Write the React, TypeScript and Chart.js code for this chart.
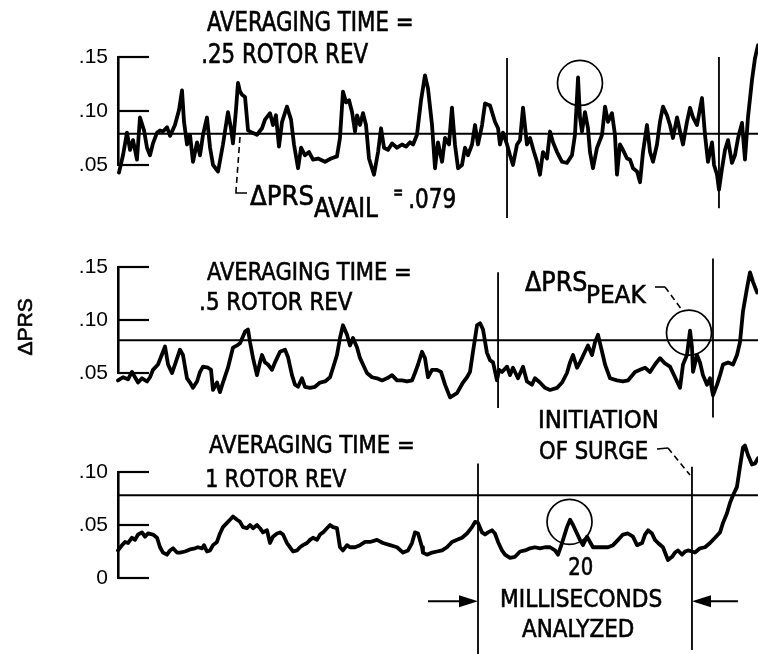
import React, { useEffect, useRef } from 'react';
import { Chart, registerables } from 'chart.js';

Chart.register(...registerables);

// ---------------- DATA (time in milliseconds, ΔPRS values) ----------------
const TIME_RANGE_MS = [0, 60];

// ΔPRS available level as drawn on each trace
const AVAIL_LEVEL_025 = 0.079;
const AVAIL_LEVEL_05 = 0.081;
const AVAIL_LEVEL_1 = 0.078;

const TICKS_025 = [0.05, 0.1, 0.15];
const TICK_LABELS_025 = ['.05', '.10', '.15'];
const TICKS_05 = [0.05, 0.1, 0.15];
const TICK_LABELS_05 = ['.05', '.10', '.15'];
const TICKS_1 = [0, 0.05, 0.1];
const TICK_LABELS_1 = ['0', '.05', '.10'];

// averaging time = .25 rotor rev
const PRS_025_REV: [number, number][] = [
  [0.09, 0.043], [0.47, 0.059], [0.84, 0.08], [1.13, 0.064], [1.41, 0.073], [1.78, 0.055], [2.06, 0.094],
  [2.44, 0.082], [2.72, 0.066], [3.0, 0.059], [3.28, 0.07], [3.66, 0.08], [3.94, 0.082], [4.22, 0.081],
  [4.59, 0.085], [4.88, 0.077], [5.34, 0.087], [5.72, 0.101], [6.0, 0.119], [6.19, 0.09], [6.47, 0.069],
  [6.75, 0.078], [7.03, 0.053], [7.41, 0.071], [7.69, 0.059], [7.97, 0.078], [8.34, 0.094], [8.63, 0.066],
  [8.91, 0.05], [9.38, 0.044], [9.84, 0.069], [10.31, 0.099], [10.59, 0.084], [10.78, 0.07], [11.06, 0.101],
  [11.25, 0.126], [11.44, 0.118], [11.63, 0.115], [11.91, 0.113], [12.19, 0.082], [12.56, 0.08], [13.03, 0.078],
  [13.5, 0.084], [13.78, 0.092], [14.25, 0.098], [14.53, 0.087], [14.81, 0.096], [15.09, 0.067], [15.38, 0.09],
  [15.84, 0.104], [16.22, 0.092], [16.5, 0.069], [16.88, 0.047], [17.16, 0.066], [17.53, 0.059], [17.91, 0.062],
  [18.28, 0.055], [18.75, 0.056], [19.41, 0.053], [19.97, 0.056], [20.53, 0.058], [20.81, 0.075], [21.09, 0.118],
  [21.38, 0.108], [21.66, 0.11], [21.94, 0.099], [22.22, 0.081], [22.41, 0.096], [22.69, 0.087], [22.97, 0.098],
  [23.25, 0.087], [23.53, 0.056], [24.0, 0.041], [24.38, 0.062], [24.66, 0.084], [24.94, 0.066], [25.31, 0.064],
  [25.69, 0.07], [26.16, 0.066], [26.63, 0.069], [27.0, 0.067], [27.38, 0.071], [27.66, 0.069], [28.03, 0.078],
  [28.41, 0.11], [28.78, 0.133], [29.06, 0.121], [29.44, 0.087], [29.72, 0.047], [30.0, 0.071], [30.38, 0.053],
  [30.66, 0.075], [31.03, 0.069], [31.31, 0.103], [31.59, 0.069], [31.88, 0.047], [32.25, 0.05], [32.53, 0.066],
  [32.81, 0.059], [33.19, 0.069], [33.47, 0.087], [33.75, 0.069], [34.13, 0.087], [34.41, 0.107], [34.88, 0.105],
  [35.34, 0.09], [35.63, 0.084], [35.81, 0.069], [36.09, 0.08], [36.47, 0.069], [36.75, 0.059], [37.03, 0.05],
  [37.41, 0.069], [37.69, 0.073], [37.97, 0.103], [38.34, 0.069], [38.63, 0.075], [39.0, 0.062], [39.28, 0.053],
  [39.56, 0.041], [39.84, 0.062], [40.22, 0.056], [40.5, 0.081], [40.78, 0.071], [41.16, 0.062], [41.63, 0.053],
  [42.09, 0.052], [42.56, 0.059], [42.84, 0.078], [43.13, 0.131], [43.31, 0.094], [43.5, 0.081], [43.78, 0.099],
  [44.06, 0.084], [44.25, 0.062], [44.53, 0.047], [44.91, 0.066], [45.38, 0.078], [45.66, 0.104], [45.94, 0.09],
  [46.31, 0.098], [46.59, 0.078], [46.78, 0.041], [47.06, 0.069], [47.34, 0.064], [47.72, 0.056], [48.0, 0.055],
  [48.28, 0.047], [48.66, 0.044], [48.94, 0.034], [49.22, 0.062], [49.59, 0.087], [49.88, 0.062], [50.16, 0.053],
  [50.53, 0.069], [50.81, 0.09], [51.09, 0.104], [51.47, 0.096], [51.75, 0.087], [52.03, 0.075], [52.41, 0.094],
  [52.69, 0.081], [52.97, 0.069], [53.34, 0.09], [53.63, 0.103], [53.91, 0.094], [54.28, 0.087], [54.75, 0.112],
  [55.03, 0.078], [55.31, 0.053], [55.69, 0.071], [55.88, 0.05], [56.16, 0.041], [56.34, 0.027], [56.63, 0.047],
  [56.91, 0.064], [57.19, 0.073], [57.56, 0.052], [57.84, 0.059], [58.13, 0.075], [58.5, 0.089], [58.78, 0.055],
  [59.06, 0.094], [59.44, 0.129], [59.72, 0.149], [60.0, 0.161],
];

// averaging time = .5 rotor rev
const PRS_05_REV: [number, number][] = [
  [0.0, 0.043], [0.47, 0.046], [0.94, 0.044], [1.31, 0.051], [1.59, 0.046], [1.88, 0.041], [2.25, 0.045],
  [2.72, 0.042], [3.0, 0.046], [3.28, 0.053], [3.75, 0.058], [4.22, 0.07], [4.41, 0.075], [4.69, 0.058],
  [5.06, 0.05], [5.34, 0.058], [5.81, 0.072], [6.09, 0.067], [6.47, 0.045], [6.75, 0.041], [7.03, 0.036],
  [7.41, 0.042], [7.69, 0.051], [7.97, 0.056], [8.44, 0.055], [8.72, 0.053], [8.91, 0.034], [9.28, 0.041],
  [9.56, 0.032], [9.84, 0.041], [10.31, 0.055], [10.78, 0.074], [11.16, 0.076], [11.44, 0.078], [11.91, 0.089],
  [12.19, 0.091], [12.38, 0.079], [12.66, 0.064], [13.03, 0.048], [13.31, 0.06], [13.5, 0.067], [13.78, 0.06],
  [14.06, 0.058], [14.44, 0.053], [14.72, 0.06], [15.19, 0.07], [15.66, 0.072], [15.94, 0.065], [16.31, 0.048],
  [16.59, 0.039], [16.88, 0.037], [17.25, 0.045], [17.53, 0.037], [18.0, 0.036], [18.47, 0.037], [18.94, 0.041],
  [19.41, 0.042], [19.88, 0.046], [20.16, 0.055], [20.53, 0.067], [20.81, 0.083], [21.09, 0.095], [21.47, 0.086],
  [21.75, 0.076], [22.03, 0.083], [22.41, 0.074], [22.69, 0.064], [22.97, 0.058], [23.34, 0.05], [23.81, 0.046],
  [24.28, 0.045], [24.75, 0.043], [25.22, 0.045], [25.69, 0.048], [26.16, 0.043], [26.63, 0.043], [27.09, 0.042],
  [27.56, 0.043], [27.84, 0.05], [28.13, 0.058], [28.5, 0.07], [28.78, 0.064], [29.06, 0.046], [29.44, 0.053],
  [29.91, 0.053], [30.28, 0.051], [30.66, 0.039], [31.13, 0.027], [31.78, 0.031], [32.34, 0.041], [32.72, 0.046],
  [33.0, 0.051], [33.28, 0.07], [33.66, 0.095], [33.94, 0.097], [34.22, 0.091], [34.59, 0.069], [34.88, 0.062],
  [35.16, 0.06], [35.53, 0.043], [35.72, 0.053], [36.0, 0.051], [36.47, 0.056], [36.75, 0.048], [37.03, 0.055],
  [37.5, 0.045], [37.97, 0.056], [38.34, 0.042], [38.81, 0.039], [39.09, 0.045], [39.56, 0.041], [40.03, 0.036],
  [40.5, 0.034], [41.16, 0.036], [41.63, 0.041], [42.09, 0.05], [42.38, 0.06], [42.66, 0.067], [43.03, 0.055],
  [43.31, 0.06], [43.78, 0.07], [44.06, 0.076], [44.44, 0.067], [44.72, 0.079], [45.0, 0.086], [45.38, 0.07],
  [45.66, 0.058], [46.13, 0.045], [46.78, 0.043], [47.34, 0.042], [47.81, 0.043], [48.47, 0.051], [48.94, 0.053],
  [49.41, 0.055], [49.88, 0.051], [50.34, 0.058], [50.81, 0.064], [51.28, 0.059], [51.75, 0.056], [52.22, 0.046],
  [52.69, 0.036], [52.97, 0.058], [53.34, 0.067], [53.63, 0.09], [53.81, 0.074], [53.91, 0.051], [54.28, 0.067],
  [54.56, 0.06], [54.84, 0.048], [55.22, 0.039], [55.5, 0.045], [55.78, 0.029], [56.16, 0.039], [56.44, 0.048],
  [56.72, 0.058], [57.19, 0.06], [57.66, 0.058], [58.03, 0.067], [58.31, 0.079], [58.59, 0.108], [58.97, 0.13],
  [59.25, 0.145], [59.53, 0.136], [59.91, 0.126], [60.0, 0.127],
];

// averaging time = 1 rotor rev
const PRS_1_REV: [number, number][] = [
  [0.0, 0.026], [0.38, 0.031], [0.66, 0.034], [0.94, 0.033], [1.31, 0.038], [1.59, 0.036], [1.88, 0.041],
  [2.25, 0.043], [2.53, 0.039], [2.81, 0.042], [3.28, 0.041], [3.66, 0.038], [3.94, 0.029], [4.22, 0.024],
  [4.59, 0.022], [4.88, 0.026], [5.16, 0.028], [5.53, 0.024], [5.81, 0.024], [6.28, 0.025], [6.75, 0.027],
  [7.22, 0.028], [7.5, 0.029], [7.88, 0.028], [8.06, 0.031], [8.34, 0.025], [8.63, 0.026], [8.91, 0.031],
  [9.28, 0.034], [9.56, 0.042], [9.84, 0.048], [10.22, 0.052], [10.5, 0.055], [10.78, 0.058], [11.16, 0.055],
  [11.44, 0.053], [11.72, 0.048], [12.09, 0.047], [12.38, 0.05], [12.66, 0.047], [13.03, 0.05], [13.31, 0.047],
  [13.59, 0.043], [13.97, 0.045], [14.25, 0.033], [14.53, 0.039], [14.91, 0.042], [15.19, 0.043], [15.47, 0.041],
  [15.84, 0.033], [16.13, 0.029], [16.41, 0.025], [16.78, 0.026], [17.06, 0.029], [17.34, 0.031], [17.72, 0.033],
  [18.0, 0.036], [18.28, 0.038], [18.66, 0.036], [18.94, 0.041], [19.22, 0.043], [19.59, 0.047], [19.88, 0.05],
  [20.16, 0.048], [20.53, 0.047], [20.81, 0.029], [21.09, 0.026], [21.47, 0.031], [21.75, 0.029], [22.22, 0.029],
  [22.69, 0.031], [23.16, 0.034], [23.63, 0.034], [24.28, 0.036], [24.84, 0.033], [25.5, 0.031], [26.16, 0.029],
  [26.72, 0.024], [27.19, 0.026], [27.56, 0.033], [27.84, 0.043], [28.13, 0.042], [28.5, 0.029], [28.59, 0.024],
  [28.97, 0.022], [29.44, 0.024], [29.91, 0.025], [30.38, 0.026], [30.84, 0.029], [31.31, 0.034], [31.78, 0.036],
  [32.25, 0.038], [32.72, 0.042], [33.19, 0.048], [33.47, 0.053], [33.75, 0.052], [34.13, 0.043], [34.41, 0.041],
  [34.69, 0.043], [35.06, 0.045], [35.34, 0.042], [35.63, 0.034], [36.0, 0.026], [36.28, 0.022], [36.75, 0.019],
  [37.22, 0.02], [37.69, 0.025], [38.16, 0.026], [38.63, 0.028], [39.09, 0.029], [39.56, 0.028], [40.03, 0.029],
  [40.5, 0.029], [40.97, 0.026], [41.25, 0.022], [41.63, 0.033], [42.09, 0.048], [42.38, 0.055], [42.66, 0.05],
  [43.03, 0.042], [43.31, 0.036], [43.59, 0.031], [43.97, 0.039], [44.25, 0.034], [44.53, 0.029], [45.0, 0.029],
  [45.47, 0.029], [45.94, 0.029], [46.41, 0.031], [46.88, 0.036], [47.34, 0.041], [47.81, 0.042], [48.28, 0.039],
  [48.66, 0.031], [49.13, 0.033], [49.41, 0.041], [49.69, 0.045], [50.06, 0.042], [50.34, 0.036], [50.63, 0.033],
  [51.09, 0.029], [51.56, 0.017], [51.94, 0.02], [52.22, 0.024], [52.5, 0.026], [52.88, 0.022], [53.16, 0.025],
  [53.44, 0.026], [53.81, 0.025], [54.09, 0.024], [54.56, 0.028], [55.03, 0.029], [55.5, 0.033], [55.97, 0.038],
  [56.44, 0.043], [56.72, 0.052], [57.09, 0.061], [57.38, 0.071], [57.66, 0.078], [58.03, 0.086], [58.31, 0.105],
  [58.59, 0.123], [58.78, 0.125], [59.06, 0.116], [59.44, 0.107], [59.72, 0.108], [60.0, 0.113],
];

// analysis window markers: [time ms, top value, bottom value]
const WINDOW_025: [number, number, number][] = [[36.47, 0.149, 0.001], [56.34, 0.15, 0.01]];
const WINDOW_05: [number, number, number][] = [[35.63, 0.145, 0.017], [55.78, 0.158, 0.008]];
const WINDOW_1: [number, number, number][] = [[33.75, 0.108, -0.072], [53.81, 0.105, -0.068]];

// circled peaks [time ms, ΔPRS]
const PEAK_025: [number, number] = [43.31, 0.126];
const PEAK_05: [number, number] = [53.53, 0.088];
const PEAK_1: [number, number] = [42.33, 0.053];

// "20 milliseconds analyzed" arrows [from ms, to ms, level]
const ARROWS_1: [number, number, number][] = [[29.06, 33.75, -0.022], [58.13, 53.81, -0.022]];

// ---------------- LAYOUT / STYLE ----------------
const W = 758;
const H = 654;
const AXIS_X = 118;
const NARROW = '"Liberation Sans Narrow", "DejaVu Sans Condensed", "Arial Narrow", sans-serif';
const REGULAR = '"Liberation Sans", Arial, sans-serif';

type TextItem = { text: string; x: number; y: number; size: number; width?: number; font?: string; rotate?: boolean };
type Leader = { pts: [number, number][]; dash: boolean };

type Panel = {
  series: [number, number][];
  avail: number;
  ticks: number[];
  tickLabels: string[];
  min: number;
  max: number;
  top: number;
  bottom: number;
  windowLines: [number, number, number][];
  peak: [number, number];
  arrows: [number, number, number][];
  texts: TextItem[];
  leaders: Leader[];
};

const PANELS: Panel[] = [
  {
    series: PRS_025_REV, avail: AVAIL_LEVEL_025, ticks: TICKS_025, tickLabels: TICK_LABELS_025,
    min: 0.05, max: 0.15, top: 57, bottom: 165, windowLines: WINDOW_025, peak: PEAK_025, arrows: [],
    texts: [
      { text: 'AVERAGING TIME =', x: 207, y: 31, size: 26, width: 205 },
      { text: '.25 ROTOR REV', x: 203, y: 63, size: 26, width: 165 },
      { text: 'ΔPRS', x: 250, y: 205, size: 26, width: 63 },
      { text: 'AVAIL', x: 314, y: 217, size: 26, width: 64 },
      { text: '=', x: 394, y: 198, size: 18, width: 8 },
      { text: '.079', x: 410, y: 208, size: 27, width: 45 },
    ],
    leaders: [
      { pts: [[240, 137], [236, 191]], dash: true },
      { pts: [[236, 191], [236, 193], [247, 193]], dash: false },
    ],
  },
  {
    series: PRS_05_REV, avail: AVAIL_LEVEL_05, ticks: TICKS_05, tickLabels: TICK_LABELS_05,
    min: 0.05, max: 0.15, top: 267, bottom: 373, windowLines: WINDOW_05, peak: PEAK_05, arrows: [],
    texts: [
      { text: 'AVERAGING TIME =', x: 207, y: 280, size: 25, width: 203 },
      { text: '.5 ROTOR REV', x: 201, y: 310, size: 25, width: 152 },
      { text: 'ΔPRS', x: 525, y: 291, size: 27, width: 62 },
      { text: 'PEAK', x: 588, y: 303, size: 25, width: 59 },
      { text: 'ΔPRS', x: 25, y: 327, size: 20, width: 57, font: REGULAR, rotate: true },
    ],
    leaders: [
      { pts: [[655, 287], [665, 287]], dash: false },
      { pts: [[665, 287], [682, 310]], dash: true },
    ],
  },
  {
    series: PRS_1_REV, avail: AVAIL_LEVEL_1, ticks: TICKS_1, tickLabels: TICK_LABELS_1,
    min: 0, max: 0.1, top: 472, bottom: 578, windowLines: WINDOW_1, peak: PEAK_1, arrows: ARROWS_1,
    texts: [
      { text: 'AVERAGING TIME =', x: 209, y: 453, size: 25, width: 204 },
      { text: '1 ROTOR REV', x: 207, y: 487, size: 25, width: 140 },
      { text: 'INITIATION', x: 540, y: 428, size: 25, width: 117 },
      { text: 'OF SURGE', x: 540, y: 459, size: 25, width: 107 },
      { text: '20', x: 569, y: 575, size: 25, width: 23 },
      { text: 'MILLISECONDS', x: 502, y: 607, size: 25, width: 160 },
      { text: 'ANALYZED', x: 522, y: 637, size: 25, width: 111 },
    ],
    leaders: [
      { pts: [[657, 449], [668, 448]], dash: false },
      { pts: [[668, 448], [690, 475]], dash: true },
    ],
  },
];

function drawText(ctx: CanvasRenderingContext2D, t: TextItem) {
  ctx.save();
  ctx.font = `${t.size}px ${t.font ?? NARROW}`;
  ctx.fillStyle = '#000';
  ctx.strokeStyle = '#000';
  ctx.lineWidth = 0.6;
  ctx.textAlign = 'left';
  ctx.textBaseline = 'alphabetic';
  const m = ctx.measureText(t.text);
  const ink = m.actualBoundingBoxLeft + m.actualBoundingBoxRight;
  const sx = t.width && ink > 0 ? t.width / ink : 1;
  ctx.translate(t.x, t.y);
  let px = m.actualBoundingBoxLeft;
  let py = 0;
  if (t.rotate) {
    ctx.rotate(-Math.PI / 2);
    px = -ink / 2 + m.actualBoundingBoxLeft;
    py = m.actualBoundingBoxAscent / 2;
  }
  ctx.scale(sx, 1);
  ctx.fillText(t.text, px, py);
  ctx.strokeText(t.text, px, py);
  ctx.restore();
}

function overlayPlugin(p: Panel) {
  return {
    id: 'overlay',
    afterDatasetsDraw(chart: any) {
      const ctx: CanvasRenderingContext2D = chart.ctx;
      const xs = chart.scales.x;
      const ys = chart.scales.y;
      const area = chart.chartArea;
      ctx.save();
      ctx.strokeStyle = '#000';
      ctx.fillStyle = '#000';
      // inward tick marks
      ctx.lineWidth = 2.2;
      p.ticks.forEach((v) => {
        const y = Math.round(ys.getPixelForValue(v));
        ctx.beginPath();
        ctx.moveTo(area.left, y);
        ctx.lineTo(area.left + 31, y);
        ctx.stroke();
      });
      // arrows
      p.arrows.forEach(([from, to, lvl]) => {
        const x0 = xs.getPixelForValue(from);
        const x1 = xs.getPixelForValue(to);
        const y = ys.getPixelForValue(lvl);
        const dir = Math.sign(x1 - x0);
        ctx.lineWidth = 2;
        ctx.beginPath();
        ctx.moveTo(x0, y);
        ctx.lineTo(x1 - dir * 10, y);
        ctx.stroke();
        ctx.beginPath();
        ctx.moveTo(x1, y);
        ctx.lineTo(x1 - dir * 19, y - 6);
        ctx.lineTo(x1 - dir * 19, y + 6);
        ctx.closePath();
        ctx.fill();
      });
      // leader lines
      p.leaders.forEach((l) => {
        ctx.lineWidth = 1.6;
        ctx.setLineDash(l.dash ? [6, 4] : []);
        ctx.beginPath();
        l.pts.forEach(([x, y], i) => (i === 0 ? ctx.moveTo(x, y) : ctx.lineTo(x, y)));
        ctx.stroke();
      });
      ctx.setLineDash([]);
      ctx.restore();
      p.texts.forEach((t) => drawText(ctx, t));
    },
  };
}

function buildChart(canvas: HTMLCanvasElement, p: Panel) {
  const line = { showLine: true, borderColor: '#000', pointRadius: 0, clip: false as any };
  const datasets: any[] = [
    {
      ...line,
      data: p.series.map(([x, y]) => ({ x, y })),
      borderWidth: 3.8,
      borderJoinStyle: 'round',
      borderCapStyle: 'round',
    },
    {
      ...line,
      data: [{ x: TIME_RANGE_MS[0], y: p.avail }, { x: TIME_RANGE_MS[1], y: p.avail }],
      borderWidth: 2,
    },
    ...p.windowLines.map(([t, top, bot]) => ({
      ...line,
      data: [{ x: t, y: top }, { x: t, y: bot }],
      borderWidth: 1.8,
    })),
    {
      data: [{ x: p.peak[0], y: p.peak[1] }],
      showLine: false,
      pointRadius: 22.5,
      pointStyle: 'circle',
      pointBorderColor: '#000',
      pointBorderWidth: 1.7,
      pointBackgroundColor: 'rgba(0,0,0,0)',
      clip: false,
    },
  ];

  return new Chart(canvas, {
    type: 'scatter',
    data: { datasets },
    options: {
      responsive: false,
      animation: false,
      devicePixelRatio: 1,
      events: [],
      layout: { autoPadding: false, padding: { left: 0, right: 0, top: p.top, bottom: H - p.bottom } },
      plugins: { legend: { display: false }, tooltip: { enabled: false }, title: { display: false } },
      scales: {
        x: { type: 'linear', display: false, min: TIME_RANGE_MS[0], max: TIME_RANGE_MS[1] },
        y: {
          type: 'linear',
          position: 'left',
          min: p.min,
          max: p.max,
          afterFit: (s: any) => {
            s.width = AXIS_X;
          },
          afterBuildTicks: (s: any) => {
            s.ticks = p.ticks.map((v) => ({ value: v }));
          },
          grid: { display: false, drawTicks: false },
          border: { display: true, color: '#000', width: 2.6 },
          ticks: {
            color: '#000',
            padding: 10,
            autoSkip: false,
            font: { family: REGULAR, size: 21 },
            callback: (_v: any, i: number) => p.tickLabels[i],
          },
        },
      },
    } as any,
    plugins: [overlayPlugin(p)],
  });
}

export default function App() {
  const r0 = useRef<HTMLCanvasElement>(null);
  const r1 = useRef<HTMLCanvasElement>(null);
  const r2 = useRef<HTMLCanvasElement>(null);
  const refs = [r0, r1, r2];

  useEffect(() => {
    const charts = PANELS.map((p, i) => buildChart(refs[i].current as HTMLCanvasElement, p));
    return () => charts.forEach((c) => c.destroy());
  }, []);

  return (
    <div style={{ position: 'absolute', left: 0, top: 0, width: W, height: H, background: '#fff', overflow: 'hidden' }}>
      {refs.map((r, i) => (
        <canvas key={i} ref={r} width={W} height={H} style={{ position: 'absolute', left: 0, top: 0, display: 'block' }} />
      ))}
    </div>
  );
}
